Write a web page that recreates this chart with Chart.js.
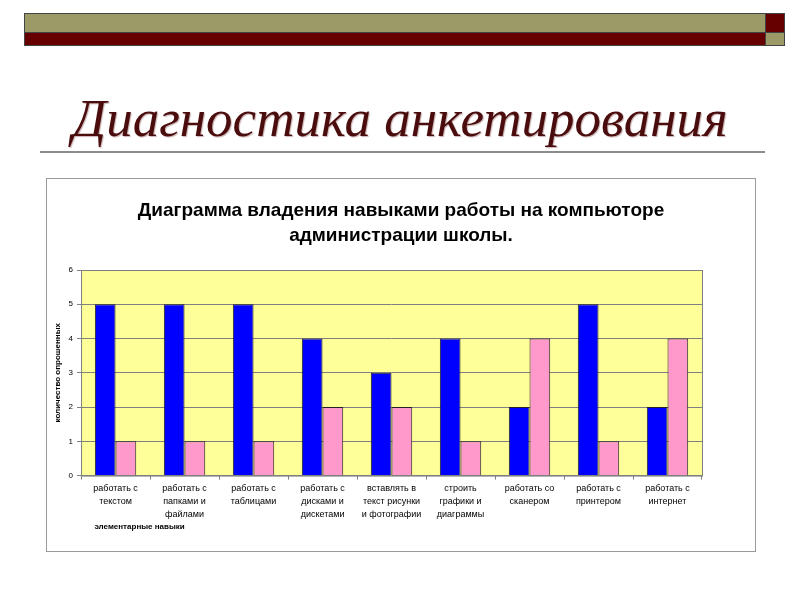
<!DOCTYPE html>
<html>
<head>
<meta charset="utf-8">
<script src="https://cdn.jsdelivr.net/npm/chart.js@4/dist/chart.umd.min.js"></script>
<style>
  body { margin: 0; background: #fff; width: 800px; height: 600px; position: relative; overflow: hidden; }
  .bar { position: absolute; box-sizing: border-box; border: 1px solid #444; }
  #heading { position: absolute; left: 0; top: 88px; width: 800px; text-align: center;
    font-family: "Liberation Serif", serif; font-style: italic; font-size: 53px; color: #4a0c0c;
    text-shadow: 1px 1px 1px #c9b3b3; }
  #rule { position: absolute; left: 40px; top: 151px; width: 725px; height: 2px; background: #8c8c8c; }
  #box { position: absolute; left: 46px; top: 178px; width: 710px; height: 374px; box-sizing: border-box;
    border: 1px solid #9a9a9a; background: #fff; }
</style>
</head>
<body>
<div class="bar" style="left:24px;top:13px;width:742px;height:20px;background:#9c9a67"></div>
<div class="bar" style="left:765px;top:13px;width:20px;height:20px;background:#660000"></div>
<div class="bar" style="left:24px;top:32px;width:742px;height:14px;background:#660000"></div>
<div class="bar" style="left:765px;top:32px;width:20px;height:14px;background:#9c9a67"></div>
<div id="heading">Диагностика анкетирования</div>
<div id="rule"></div>
<div id="box"><canvas id="chart" width="708" height="372"></canvas></div>
<script>
// categories and values
var categories = [
  ['работать с', 'текстом'],
  ['работать с', 'папками и', 'файлами'],
  ['работать с', 'таблицами'],
  ['работать с', 'дисками и', 'дискетами'],
  ['вставлять в', 'текст рисунки', 'и фотографии'],
  ['строить', 'графики и', 'диаграммы'],
  ['работать со', 'сканером'],
  ['работать с', 'принтером'],
  ['работать с', 'интернет']
];
var series1 = [5, 5, 5, 4, 3, 4, 2, 5, 2];
var series2 = [1, 1, 1, 2, 2, 1, 4, 1, 4];
var yTicks = [0, 1, 2, 3, 4, 5, 6];
var chartTitle = ['Диаграмма владения навыками работы на компьютоpe', 'администрации школы.'];

var plotBg = {
  id: 'plotBg',
  beforeDraw: function(chart) {
    var a = chart.chartArea, ctx = chart.ctx;
    ctx.save();
    ctx.fillStyle = '#FFFF99';
    ctx.fillRect(a.left, a.top, a.right - a.left, a.bottom - a.top);
    ctx.restore();
  },
  afterDraw: function(chart) {
    var a = chart.chartArea, ctx = chart.ctx;
    ctx.save();
    ctx.strokeStyle = '#808080';
    ctx.lineWidth = 1;
    ctx.strokeRect(a.left + 0.5, a.top + 0.5, a.right - a.left, a.bottom - a.top);
    // title centred on the whole chart box
    ctx.fillStyle = '#000';
    ctx.font = 'bold 19px "Liberation Sans"';
    ctx.textAlign = 'center';
    ctx.textBaseline = 'middle';
    chartTitle.forEach(function(line, i) {
      ctx.fillText(line, chart.width / 2, 32 + i * 25);
    });
    ctx.restore();
  }
};

new Chart(document.getElementById('chart'), {
  type: 'bar',
  data: {
    labels: categories,
    datasets: [
      { label: 'Ряд1', data: series1, backgroundColor: '#0000FF', borderColor: '#222', borderWidth: 1,
        categoryPercentage: 0.6, barPercentage: 1 },
      { label: 'Ряд2', data: series2, backgroundColor: '#FF99CC', borderColor: '#222', borderWidth: 1,
        categoryPercentage: 0.6, barPercentage: 1 }
    ]
  },
  options: {
    responsive: false,
    animation: false,
    layout: { padding: { left: 6, right: 53, top: 91, bottom: 19 } },
    plugins: {
      legend: { display: false },
      tooltip: { enabled: false },
      title: { display: false }
    },
    scales: {
      x: {
        grid: { display: true, drawOnChartArea: false, drawTicks: true, tickLength: 4, color: '#808080' },
        border: { display: false },
        ticks: { color: '#000', maxRotation: 0, autoSkip: false, padding: 3,
          font: { family: 'Liberation Sans', size: 9, lineHeight: 1.4 } },
        title: { display: true, text: '      элементарные навыки', align: 'start', color: '#000',
          padding: { top: -1, bottom: 0 },
          font: { family: 'Liberation Sans', size: 8, weight: 'bold' } }
      },
      y: {
        min: 0, max: 6,
        afterBuildTicks: function(scale) { scale.ticks = yTicks.map(function(v) { return { value: v }; }); },
        grid: { color: '#808080', tickLength: 4 },
        border: { display: false },
        ticks: { color: '#000', padding: 4, font: { family: 'Liberation Sans', size: 8 } },
        title: { display: true, text: 'количество опрошенных', color: '#000', padding: { top: 0, bottom: 2 },
          font: { family: 'Liberation Sans', size: 8, weight: 'bold' } }
      }
    }
  },
  plugins: [plotBg]
});
</script>
</body>
</html>
